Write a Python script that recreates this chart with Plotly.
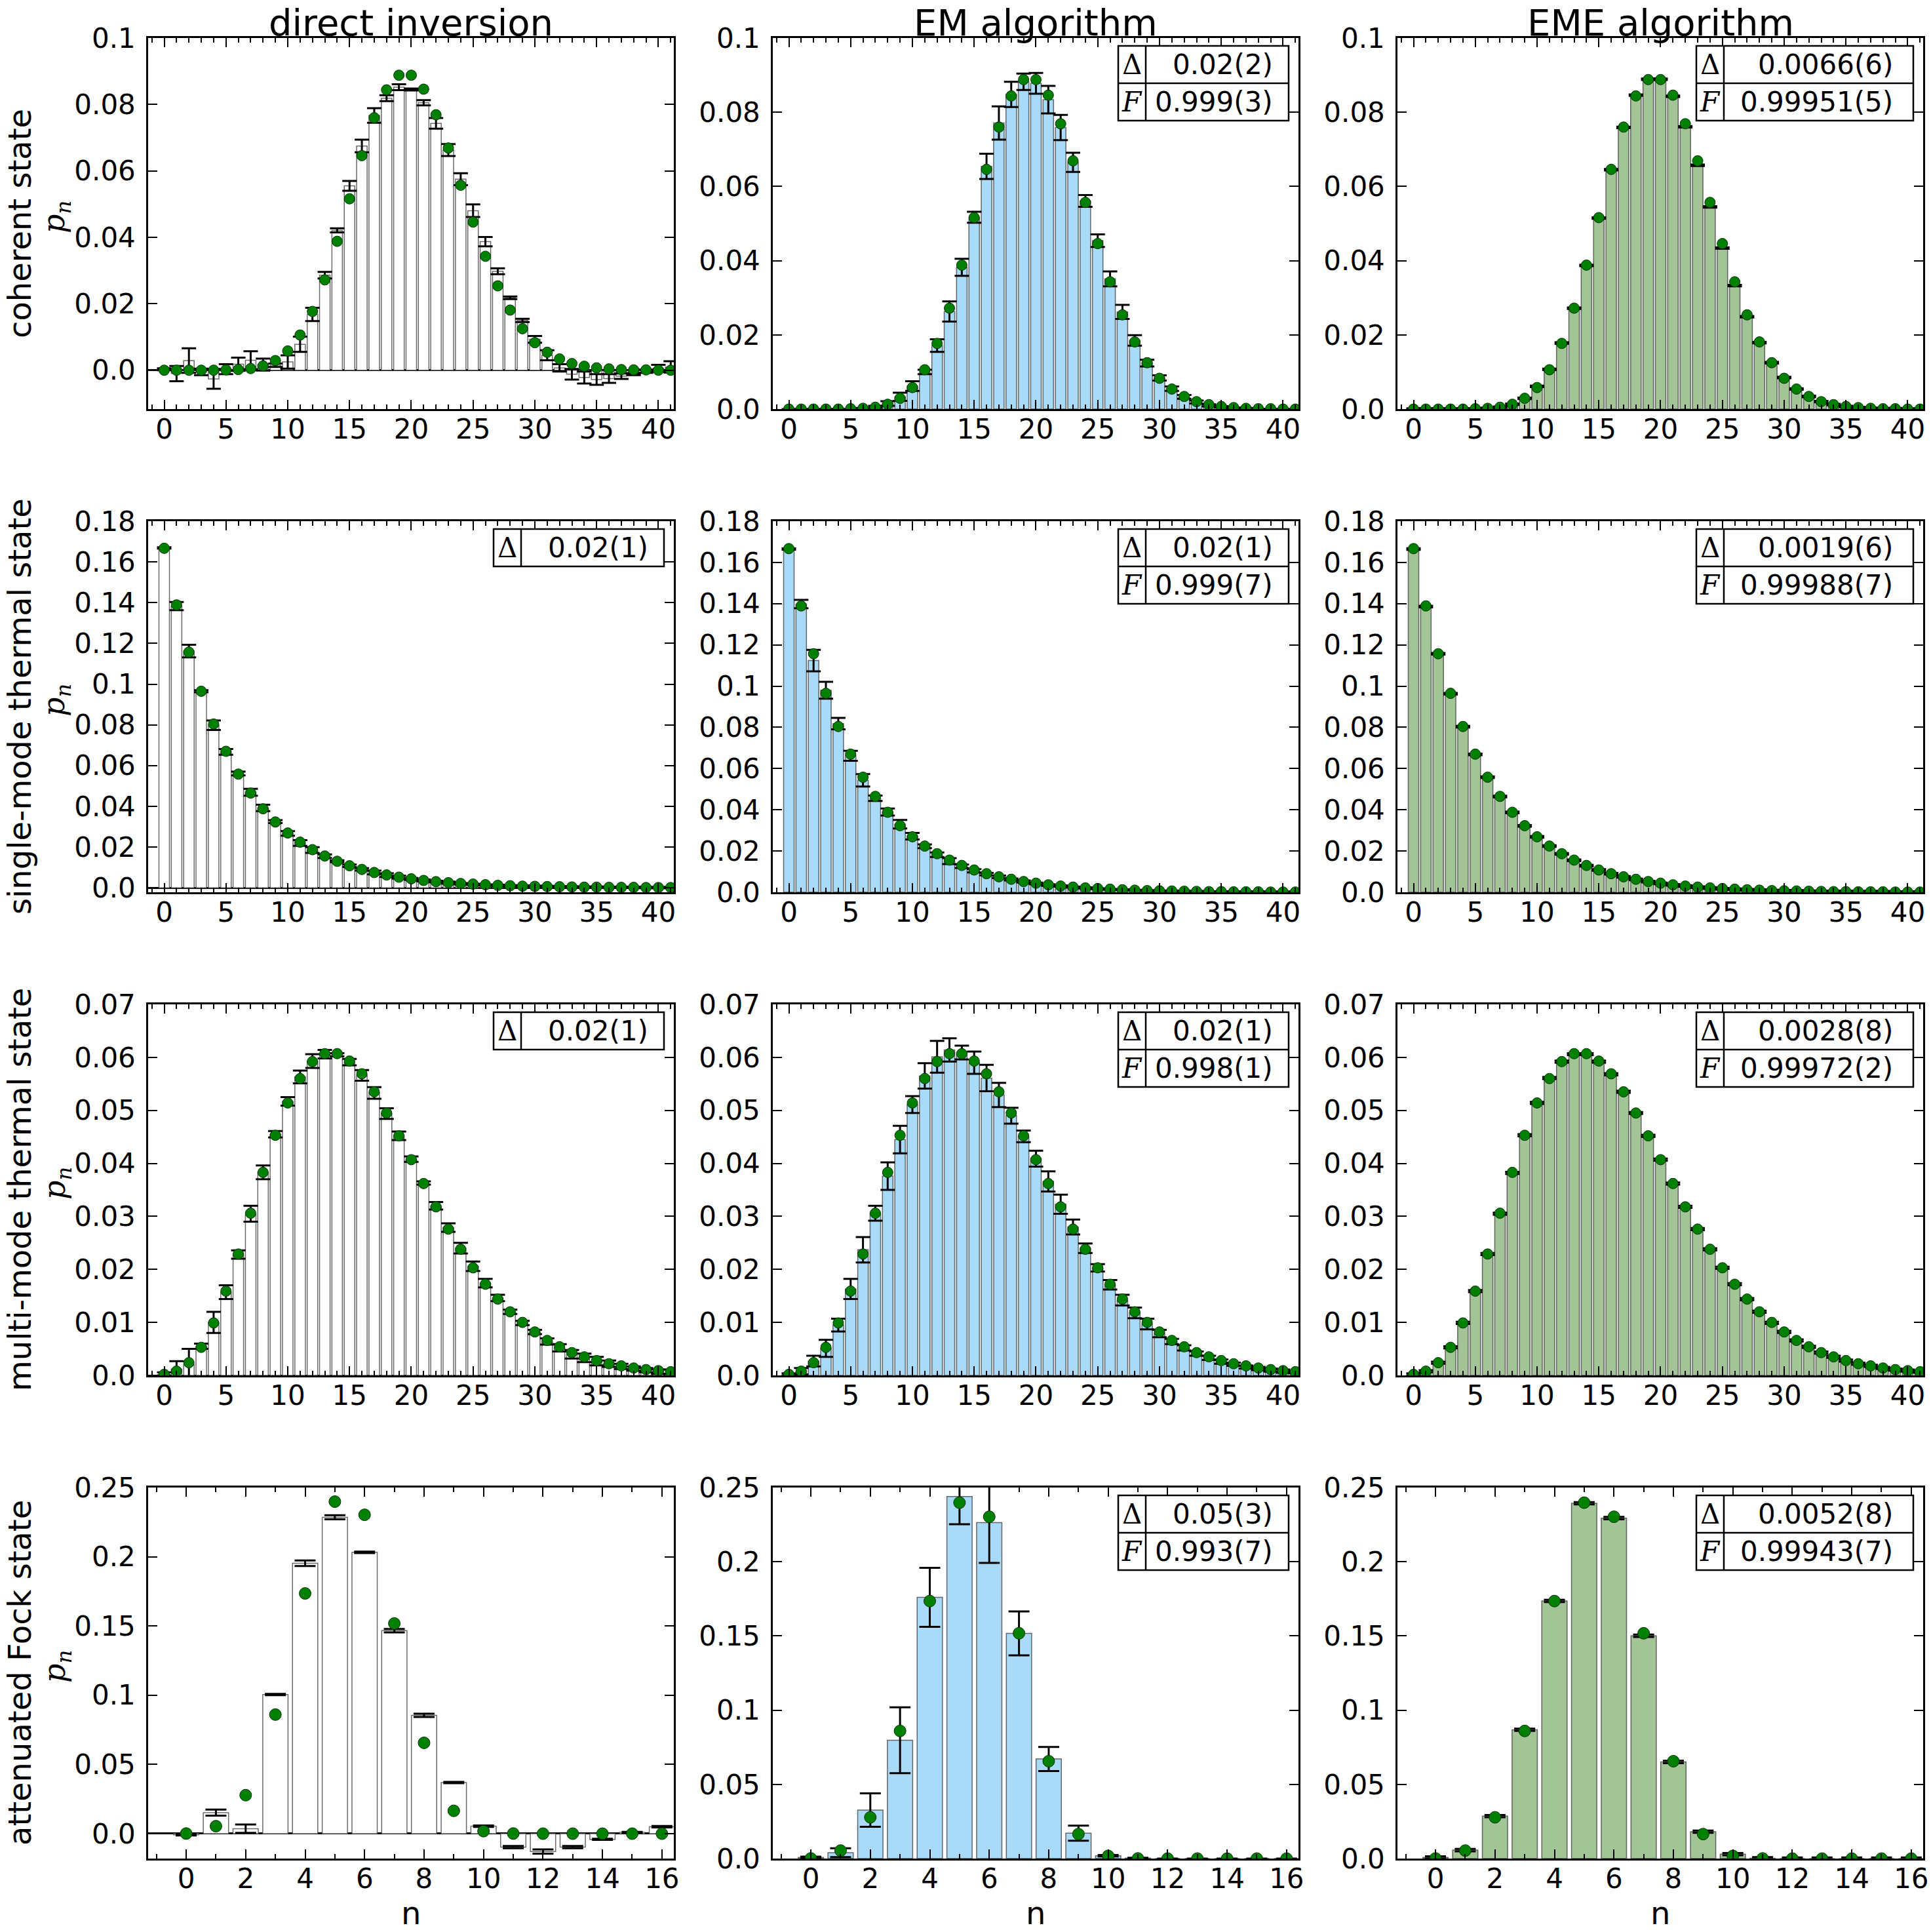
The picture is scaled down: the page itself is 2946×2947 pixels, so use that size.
import plotly.graph_objects as go

W, H = 2946, 2947
COL_PX = [(226, 1028), (1179, 1981), (2132, 2934)]
ROW_TOP = [58, 795, 1532, 2269]
ROW_H = 566
PW = 802

# ---------------- data ----------------
n_long = list(range(42))
n_fock = list(range(17))

col_titles = ["direct inversion", "EM algorithm", "EME algorithm"]
row_titles = ["coherent state", "single-mode thermal state", "multi-mode thermal state", "attenuated Fock state"]

# theory (green dots)
th_coh = [0, 0, 0, 0, 0, 0.0001, 0.0002, 0.0005, 0.0013, 0.0029, 0.0058, 0.0106, 0.0177, 0.0272, 0.0388,
          0.0516, 0.0646, 0.0760, 0.0844, 0.0888, 0.0888, 0.0846, 0.0769, 0.0669, 0.0557, 0.0446, 0.0343,
          0.0254, 0.0181, 0.0125, 0.0083, 0.0054, 0.0034, 0.0020, 0.0012, 0.0007, 0.0004, 0.0002, 0.0001,
          0.0001, 0.0000, 0.0000]
th_sm = [0.1667, 0.1389, 0.1157, 0.0965, 0.0804, 0.0670, 0.0558, 0.0465, 0.0388, 0.0323, 0.0269, 0.0224,
         0.0187, 0.0156, 0.0130, 0.0108, 0.0090, 0.0075, 0.0063, 0.0052, 0.0044, 0.0036, 0.0030, 0.0025,
         0.0021, 0.0018, 0.0015, 0.0012, 0.0010, 0.0008, 0.0007, 0.0006, 0.0005, 0.0004, 0.0003, 0.0003,
         0.0002, 0.0002, 0.0002, 0.0001, 0.0001, 0.0001]
th_mm = [0.0002, 0.0008, 0.0024, 0.0053, 0.0099, 0.0159, 0.0229, 0.0306, 0.0383, 0.0453, 0.0514, 0.0560,
         0.0592, 0.0607, 0.0607, 0.0593, 0.0569, 0.0535, 0.0495, 0.0452, 0.0407, 0.0362, 0.0318, 0.0276,
         0.0238, 0.0203, 0.0172, 0.0144, 0.0120, 0.0100, 0.0082, 0.0066, 0.0054, 0.0043, 0.0035, 0.0028,
         0.0022, 0.0018, 0.0014, 0.0011, 0.0009, 0.0007]
th_fock = [0.0001, 0.0054, 0.0278, 0.0860, 0.1735, 0.2398, 0.2303, 0.1518, 0.0656, 0.0165, 0.0018,
           0.0001, 0, 0, 0, 0, 0]

# direct inversion
di_coh = [0.0003, -0.0010, 0.0029, -0.0005, -0.0026, 0.0003, 0.0018, 0.0030, 0.0017, 0.0015, 0.0025,
          0.0078, 0.0168, 0.0286, 0.0421, 0.0555, 0.0675, 0.0767, 0.0819, 0.0852, 0.0845, 0.0805, 0.0743,
          0.0663, 0.0575, 0.0480, 0.0387, 0.0298, 0.0218, 0.0150, 0.0093, 0.0045, 0.0007, -0.0012, -0.0022,
          -0.0028, -0.0025, -0.0018, -0.0012, -0.0003, 0.0006, 0.0010]
di_coh_err = [0.0003, 0.0023, 0.0037, 0.0010, 0.0030, 0.0015, 0.0020, 0.0027, 0.0018, 0.0005, 0.0020,
              0.0023, 0.0020, 0.0010, 0.0006, 0.0015, 0.0019, 0.0022, 0.0009, 0.0009, 0.0003, 0.0008,
              0.0016, 0.0018, 0.0018, 0.0019, 0.0014, 0.0009, 0.0004, 0.0005, 0.0010, 0.0015, 0.0011,
              0.0016, 0.0018, 0.0016, 0.0013, 0.0008, 0.0003, 0.0005, 0.0010, 0.0017]
di_sm = [0.1669, 0.1383, 0.1162, 0.0965, 0.0798, 0.0667, 0.0561, 0.0469, 0.0392, 0.0325, 0.0267, 0.0220,
         0.0185, 0.0155, 0.0130, 0.0108, 0.0090, 0.0075, 0.0062, 0.0052, 0.0043, 0.0036, 0.0030, 0.0025,
         0.0020, 0.0017, 0.0014, 0.0012, 0.0010, 0.0008, 0.0007, 0.0006, 0.0005, 0.0004, 0.0003, 0.0003,
         0.0002, 0.0002, 0.0002, 0.0001, 0.0001, 0.0001]
di_sm_err = [0.0003, 0.0020, 0.0031, 0.0005, 0.0023, 0.0014, 0.0009, 0.0017, 0.0016, 0.0007, 0.0011,
             0.0014, 0.0014, 0.0009, 0.0005, 0.0006, 0.0006, 0.0009, 0.0009, 0.0007, 0.0005, 0.0005,
             0.0004, 0.0005, 0.0003, 0.0003, 0.0003, 0.0003, 0.0003, 0.0003, 0.0003, 0.0003, 0.0003,
             0.0003, 0.0003, 0.0003, 0.0003, 0.0003, 0.0003, 0.0003, 0.0003, 0.0003]
di_mm = [0.0003, 0.0012, 0.0020, 0.0055, 0.0100, 0.0157, 0.0228, 0.0305, 0.0383, 0.0455, 0.0517, 0.0563,
         0.0593, 0.0606, 0.0605, 0.0591, 0.0566, 0.0533, 0.0494, 0.0452, 0.0408, 0.0363, 0.0320, 0.0279,
         0.0240, 0.0206, 0.0174, 0.0146, 0.0120, 0.0099, 0.0082, 0.0064, 0.0052, 0.0040, 0.0033, 0.0027,
         0.0022, 0.0017, 0.0013, 0.0010, 0.0007, 0.0007]
di_mm_err = [0.0003, 0.0015, 0.0030, 0.0005, 0.0020, 0.0013, 0.0008, 0.0015, 0.0013, 0.0006, 0.0008,
             0.0012, 0.0013, 0.0008, 0.0003, 0.0006, 0.0010, 0.0011, 0.0010, 0.0008, 0.0005, 0.0003,
             0.0007, 0.0008, 0.0010, 0.0009, 0.0008, 0.0006, 0.0004, 0.0004, 0.0004, 0.0006, 0.0007,
             0.0008, 0.0008, 0.0008, 0.0006, 0.0005, 0.0004, 0.0004, 0.0004, 0.0004]
di_fock = [-0.0008, 0.0152, 0.0036, 0.1005, 0.1953, 0.2285, 0.2032, 0.1466, 0.0855, 0.0369, 0.0054,
           -0.0097, -0.0129, -0.0097, -0.0041, 0.0009, 0.0050]
di_fock_err = [0.0005, 0.0022, 0.0030, 0.0005, 0.0020, 0.0015, 0.0005, 0.0012, 0.0012, 0.0005, 0.0005,
               0.0008, 0.0015, 0.0008, 0.0004, 0.0004, 0.0005]

# EM algorithm
em_coh = [0, 0, 0, 0, 0, 0, 0.0002, 0.0006, 0.0015, 0.0033, 0.0062, 0.0100, 0.0171, 0.0263, 0.0382,
          0.0517, 0.0654, 0.0771, 0.0848, 0.0882, 0.0878, 0.0834, 0.0759, 0.0665, 0.0561, 0.0454, 0.0351,
          0.0262, 0.0185, 0.0124, 0.0084, 0.0055, 0.0033, 0.0019, 0.0010, 0.0006, 0.0003, 0.0002, 0.0001,
          0, 0, 0]
em_coh_err = [0, 0, 0, 0, 0, 0, 0.0001, 0.0003, 0.0006, 0.0011, 0.0013, 0.0006, 0.0017, 0.0027, 0.0023,
              0.0015, 0.0034, 0.0045, 0.0034, 0.0022, 0.0028, 0.0037, 0.0034, 0.0026, 0.0016, 0.0017,
              0.0020, 0.0019, 0.0014, 0.0009, 0.0007, 0.0006, 0.0005, 0.0004, 0.0003, 0.0002, 0.0001,
              0.0001, 0, 0, 0, 0]
em_sm = [0.1665, 0.1398, 0.1124, 0.0980, 0.0818, 0.0662, 0.0543, 0.0456, 0.0389, 0.0330, 0.0272, 0.0223,
         0.0182, 0.0151, 0.0126, 0.0104, 0.0088, 0.0075, 0.0062, 0.0052, 0.0043, 0.0035, 0.0030, 0.0025,
         0.0021, 0.0017, 0.0014, 0.0012, 0.0010, 0.0008, 0.0007, 0.0006, 0.0005, 0.0004, 0.0003, 0.0003,
         0.0002, 0.0002, 0.0002, 0.0001, 0.0001, 0.0001]
em_sm_err = [0.0003, 0.0020, 0.0052, 0.0041, 0.0028, 0.0024, 0.0030, 0.0013, 0.0017, 0.0021, 0.0016,
             0.0009, 0.0011, 0.0014, 0.0008, 0.0008, 0.0006, 0.0006, 0.0005, 0.0005, 0.0004, 0.0004,
             0.0003, 0.0003, 0.0003, 0.0002, 0.0002, 0.0002, 0.0002, 0.0002, 0.0002, 0.0002, 0.0002,
             0.0002, 0.0002, 0.0002, 0.0002, 0.0002, 0.0002, 0.0002, 0.0002, 0.0002]
em_mm = [0.0002, 0.0008, 0.0027, 0.0051, 0.0095, 0.0163, 0.0237, 0.0306, 0.0376, 0.0445, 0.0511, 0.0565,
         0.0601, 0.0614, 0.0609, 0.0590, 0.0561, 0.0529, 0.0490, 0.0451, 0.0409, 0.0366, 0.0323, 0.0280,
         0.0240, 0.0203, 0.0171, 0.0142, 0.0118, 0.0097, 0.0079, 0.0064, 0.0052, 0.0041, 0.0033, 0.0026,
         0.0021, 0.0016, 0.0013, 0.0010, 0.0008, 0.0006]
em_mm_err = [0.0002, 0.0006, 0.0010, 0.0016, 0.0012, 0.0019, 0.0024, 0.0014, 0.0026, 0.0026, 0.0016,
             0.0024, 0.0030, 0.0022, 0.0013, 0.0021, 0.0025, 0.0023, 0.0015, 0.0011, 0.0015, 0.0019,
             0.0018, 0.0014, 0.0009, 0.0007, 0.0009, 0.0010, 0.0010, 0.0010, 0.0007, 0.0005, 0.0005,
             0.0004, 0.0004, 0.0004, 0.0003, 0.0003, 0.0003, 0.0003, 0.0003, 0.0002]
em_fock = [0.0008, 0.0040, 0.0327, 0.0797, 0.1760, 0.2439, 0.2264, 0.1517, 0.0671, 0.0171, 0.0019,
           0.0003, 0, 0, 0, 0, 0]
em_fock_err = [0.0005, 0.0030, 0.0113, 0.0222, 0.0199, 0.0186, 0.0272, 0.0148, 0.0081, 0.0051, 0.0005,
               0.0002, 0, 0, 0, 0, 0]

# EME algorithm
eme_coh = [0, 0, 0, 0, 0, 0, 0.0002, 0.0005, 0.0013, 0.0029, 0.0061, 0.0107, 0.0178, 0.0272, 0.0387,
           0.0515, 0.0645, 0.0759, 0.0846, 0.0889, 0.0889, 0.0843, 0.0761, 0.0657, 0.0545, 0.0434, 0.0333,
           0.0249, 0.0179, 0.0125, 0.0085, 0.0054, 0.0034, 0.0020, 0.0012, 0.0007, 0.0004, 0.0002, 0.0001,
           0.0001, 0, 0]
eme_coh_err = [0.0002] * 42
eme_sm = [0.1665, 0.1386, 0.1157, 0.0963, 0.0803, 0.0669, 0.0558, 0.0464, 0.0387, 0.0322, 0.0269, 0.0224,
          0.0186, 0.0155, 0.0129, 0.0108, 0.0090, 0.0075, 0.0062, 0.0052, 0.0043, 0.0036, 0.0030, 0.0025,
          0.0021, 0.0017, 0.0014, 0.0012, 0.0010, 0.0008, 0.0007, 0.0006, 0.0005, 0.0004, 0.0003, 0.0003,
          0.0002, 0.0002, 0.0002, 0.0001, 0.0001, 0.0001]
eme_sm_err = [0.0004] * 42
eme_mm = [0.0002, 0.0008, 0.0024, 0.0053, 0.0099, 0.0159, 0.0229, 0.0305, 0.0382, 0.0453, 0.0514, 0.0561,
          0.0592, 0.0606, 0.0606, 0.0592, 0.0568, 0.0535, 0.0495, 0.0452, 0.0407, 0.0362, 0.0318, 0.0276,
          0.0238, 0.0203, 0.0172, 0.0144, 0.0120, 0.0099, 0.0082, 0.0066, 0.0054, 0.0043, 0.0035, 0.0028,
          0.0022, 0.0018, 0.0014, 0.0011, 0.0009, 0.0007]
eme_mm_err = [0.0002] * 42
eme_fock = [0.0008, 0.0057, 0.0286, 0.0868, 0.1736, 0.2394, 0.2294, 0.1501, 0.0651, 0.0181, 0.0030,
            0.0002, 0, 0, 0, 0, 0]
eme_fock_err = [0.0008] * 17

# tick labels
ytick_vals = [
    [0, 0.02, 0.04, 0.06, 0.08, 0.1],
    [0, 0.02, 0.04, 0.06, 0.08, 0.1, 0.12, 0.14, 0.16, 0.18],
    [0, 0.01, 0.02, 0.03, 0.04, 0.05, 0.06, 0.07],
    [0, 0.05, 0.1, 0.15, 0.2, 0.25],
]
ytick_text = [
    ["0.0", "0.02", "0.04", "0.06", "0.08", "0.1"],
    ["0.0", "0.02", "0.04", "0.06", "0.08", "0.1", "0.12", "0.14", "0.16", "0.18"],
    ["0.0", "0.01", "0.02", "0.03", "0.04", "0.05", "0.06", "0.07"],
    ["0.0", "0.05", "0.1", "0.15", "0.2", "0.25"],
]
yranges_di = [[-0.0117, 0.1], [-0.0022, 0.18], [0, 0.07], [-0.018, 0.25]]
yranges = [[0, 0.1], [0, 0.18], [0, 0.07], [0, 0.25]]

tables = {
    (0, 1): [("Δ", "0.02(2)"), ("F", "0.999(3)")],
    (0, 2): [("Δ", "0.0066(6)"), ("F", "0.99951(5)")],
    (1, 0): [("Δ", "0.02(1)")],
    (1, 1): [("Δ", "0.02(1)"), ("F", "0.999(7)")],
    (1, 2): [("Δ", "0.0019(6)"), ("F", "0.99988(7)")],
    (2, 0): [("Δ", "0.02(1)")],
    (2, 1): [("Δ", "0.02(1)"), ("F", "0.998(1)")],
    (2, 2): [("Δ", "0.0028(8)"), ("F", "0.99972(2)")],
    (3, 1): [("Δ", "0.05(3)"), ("F", "0.993(7)")],
    (3, 2): [("Δ", "0.0052(8)"), ("F", "0.99943(7)")],
}

bars = [
    [(di_coh, di_coh_err), (em_coh, em_coh_err), (eme_coh, eme_coh_err)],
    [(di_sm, di_sm_err), (em_sm, em_sm_err), (eme_sm, eme_sm_err)],
    [(di_mm, di_mm_err), (em_mm, em_mm_err), (eme_mm, eme_mm_err)],
    [(di_fock, di_fock_err), (em_fock, em_fock_err), (eme_fock, eme_fock_err)],
]
theory = [th_coh, th_sm, th_mm, th_fock]
fills = ["#ffffff", "#a9daf7", "#a2c497"]

TICK_FONT = 42

# ---------------- figure ----------------
fig = go.Figure()
layout = dict(template="none", width=W, height=H, margin=dict(l=0, r=0, t=0, b=0, pad=0),
              autosize=False, paper_bgcolor="white", plot_bgcolor="white", showlegend=False,
              font=dict(family="DejaVu Sans", color="black"))
annotations = []
shapes = []

def pyp(px):
    return 1 - px / H

for r in range(4):
    for c in range(3):
        idx = r * 3 + c + 1
        sfx = "" if idx == 1 else str(idx)
        xa, ya = "x" + sfx, "y" + sfx
        x0, x1 = COL_PX[c]
        top = ROW_TOP[r]
        fock = (r == 3)
        xs = n_fock if fock else n_long
        vals, errs = bars[r][c]
        fig.add_trace(go.Bar(
            x=xs, y=vals, xaxis=xa, yaxis=ya, width=0.85,
            marker=dict(color=fills[c], line=dict(color="rgba(70,70,70,0.8)", width=1.5)),
            error_y=dict(type="data", array=errs, color="black", thickness=3,
                         width=16 if fock else 11),
        ))
        fig.add_trace(go.Scatter(
            x=xs, y=theory[r], xaxis=xa, yaxis=ya, mode="markers",
            marker=dict(color="#008000", size=18 if fock else 16,
                        line=dict(color="#0a300a", width=1)),
        ))
        layout["xaxis" + sfx] = dict(
            domain=[x0 / W, x1 / W], anchor=ya, automargin=False,
            range=[-1.28, 16.4] if fock else [-1.3, 41.25],
            tickmode="array",
            tickvals=list(range(0, 17, 2)) if fock else list(range(0, 41, 5)),
            ticks="inside", ticklen=14, tickwidth=2, tickcolor="black",
            showline=True, linecolor="black", linewidth=2.5, mirror="allticks",
            showgrid=False, zeroline=False,
            minor=dict(dtick=1, tick0=0, ticks="inside", ticklen=7, tickwidth=2, tickcolor="black",
                       showgrid=False),
            tickfont=dict(size=TICK_FONT, family="DejaVu Sans", color="black"), ticklabelstandoff=-8,
        )
        layout["yaxis" + sfx] = dict(
            domain=[pyp(top + ROW_H), pyp(top)], anchor=xa, automargin=False,
            range=yranges_di[r] if c == 0 else yranges[r],
            tickmode="array", tickvals=ytick_vals[r], ticktext=ytick_text[r],
            ticks="inside", ticklen=14, tickwidth=2, tickcolor="black",
            showline=True, linecolor="black", linewidth=2.5, mirror="allticks",
            showgrid=False,
            zeroline=(c == 0), zerolinecolor="black", zerolinewidth=2.5,
            tickfont=dict(size=TICK_FONT, family="DejaVu Sans", color="black"), ticklabelstandoff=8,
        )
        # table
        if (r, c) in tables:
            rows = tables[(r, c)]
            bw = 331 if c == 2 else 260
            right = PW - 15
            left = right - bw
            div = left + 42
            rh = 57
            t0 = 12
            xr, yr = xa + " domain", ya + " domain"
            bottom = t0 + rh * len(rows)
            shapes.append(dict(type="rect", xref=xr, yref=yr, x0=left / PW, x1=right / PW,
                               y0=1 - bottom / ROW_H, y1=1 - t0 / ROW_H,
                               line=dict(color="black", width=2.5), fillcolor="white", layer="above"))
            shapes.append(dict(type="line", xref=xr, yref=yr, x0=div / PW, x1=div / PW,
                               y0=1 - bottom / ROW_H, y1=1 - t0 / ROW_H,
                               line=dict(color="black", width=2.5), layer="above"))
            for k, (sym, val) in enumerate(rows):
                if k > 0:
                    yy = 1 - (t0 + rh * k) / ROW_H
                    shapes.append(dict(type="line", xref=xr, yref=yr, x0=left / PW, x1=right / PW,
                                       y0=yy, y1=yy, line=dict(color="black", width=2.5), layer="above"))
                yc = 1 - (t0 + rh * k + rh / 2) / ROW_H
                symtxt = "Δ" if sym == "Δ" else "<i>F</i>"
                annotations.append(dict(xref=xr, yref=yr, x=(left + 21) / PW, y=yc, text=symtxt,
                                        showarrow=False, xanchor="center", yanchor="middle",
                                        font=dict(family="DejaVu Serif", size=42, color="black")))
                vx = right - 0.1 * (right - div)
                annotations.append(dict(xref=xr, yref=yr, x=vx / PW, y=yc, text=val,
                                        showarrow=False, xanchor="right", yanchor="middle",
                                        font=dict(family="DejaVu Sans", size=42, color="black")))

# column titles and x labels
for c in range(3):
    x0, x1 = COL_PX[c]
    annotations.append(dict(xref="paper", yref="paper", x=(x0 + x1) / 2 / W, y=1.0,
                            text=col_titles[c], showarrow=False, xanchor="center", yanchor="top",
                            font=dict(size=56, family="DejaVu Sans", color="black")))
    annotations.append(dict(xref="paper", yref="paper", x=(x0 + x1) / 2 / W, y=pyp(2918),
                            text="n", showarrow=False, xanchor="center", yanchor="middle",
                            font=dict(size=48, family="DejaVu Sans", color="black")))

# row titles and p_n labels
for r in range(4):
    yc = pyp(ROW_TOP[r] + ROW_H / 2)
    annotations.append(dict(xref="paper", yref="paper", x=0.0, y=yc, text=row_titles[r],
                            showarrow=False, textangle=-90, xanchor="left", yanchor="middle",
                            font=dict(size=48, family="DejaVu Sans", color="black")))
    annotations.append(dict(xref="paper", yref="paper", x=86 / W, y=pyp(ROW_TOP[r] + ROW_H / 2 - 10),
                            text="<i>p</i><sub><i>n</i></sub>",
                            showarrow=False, textangle=-90, xanchor="center", yanchor="middle",
                            font=dict(size=46, family="DejaVu Serif", color="black")))

layout["annotations"] = annotations
layout["shapes"] = shapes
fig.update_layout(**layout)
fig.write_html("out.html")
